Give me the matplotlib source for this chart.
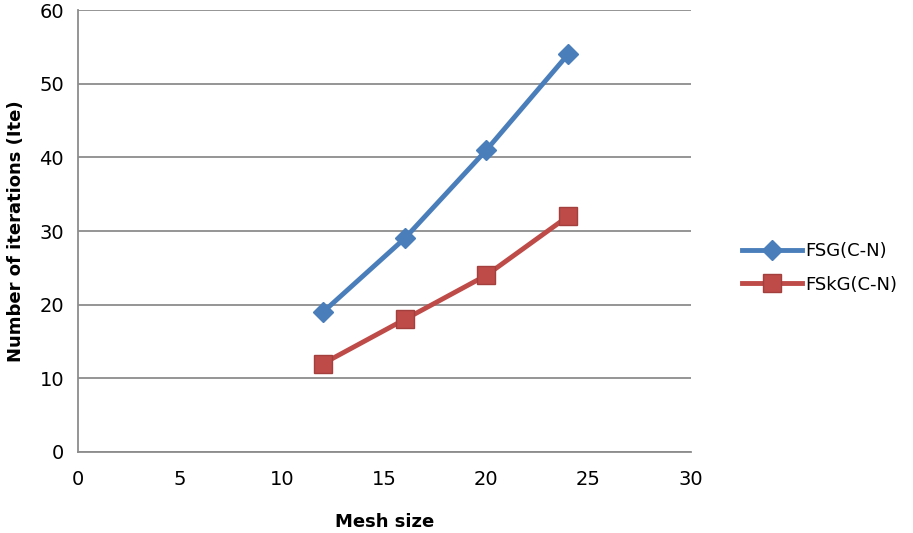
import numpy as np
from matplotlib import pyplot as plt

# data
meshSize = [12, 16, 20, 24]
fsgIters = [19, 29, 41, 54]
fskgIters = [12, 18, 24, 32]
seriesNames = ['FSG(C-N)', 'FSkG(C-N)']

blue = '#4A7EBB'
red = '#BE4B48'
gridGray = '#8C8C8C'

fig = plt.figure(figsize=(9.13, 5.33), dpi=100)
ax = fig.add_axes([0.0854, 0.152, 0.671, 0.829])

ax.plot(meshSize, fsgIters, color=blue, linewidth=3.5, marker='D',
        markersize=10.5, markerfacecolor=blue, markeredgecolor=blue,
        label=seriesNames[0], zorder=3)
ax.plot(meshSize, fskgIters, color=red, linewidth=3.5, marker='s',
        markersize=12.5, markerfacecolor=red, markeredgecolor='#A33F3C',
        label=seriesNames[1], zorder=3)

ax.set_xlim(0, 30)
ax.set_ylim(0, 60)
ax.set_xticks(np.arange(0, 31, 5))
ax.set_yticks(np.arange(0, 61, 10))
ax.yaxis.grid(True, color=gridGray, linewidth=1.3)
ax.set_axisbelow(True)

for side in ['top', 'right']:
  ax.spines[side].set_visible(False)
for side in ['left', 'bottom']:
  ax.spines[side].set_color(gridGray)
  ax.spines[side].set_linewidth(1.3)

ax.tick_params(axis='both', length=0, labelsize=14)
ax.tick_params(axis='x', pad=13)
ax.tick_params(axis='y', pad=10)
ax.set_xlabel('Mesh size', fontsize=13, fontweight='bold', labelpad=17)
ax.set_ylabel('Number of iterations (Ite)', fontsize=13, fontweight='bold',
              labelpad=10)

fig.legend(loc='center left', bbox_to_anchor=(0.795, 0.497), frameon=False,
           fontsize=13, handlelength=3.3, labelspacing=0.85, handletextpad=0.2)

fig.savefig('out.png', dpi=100)
